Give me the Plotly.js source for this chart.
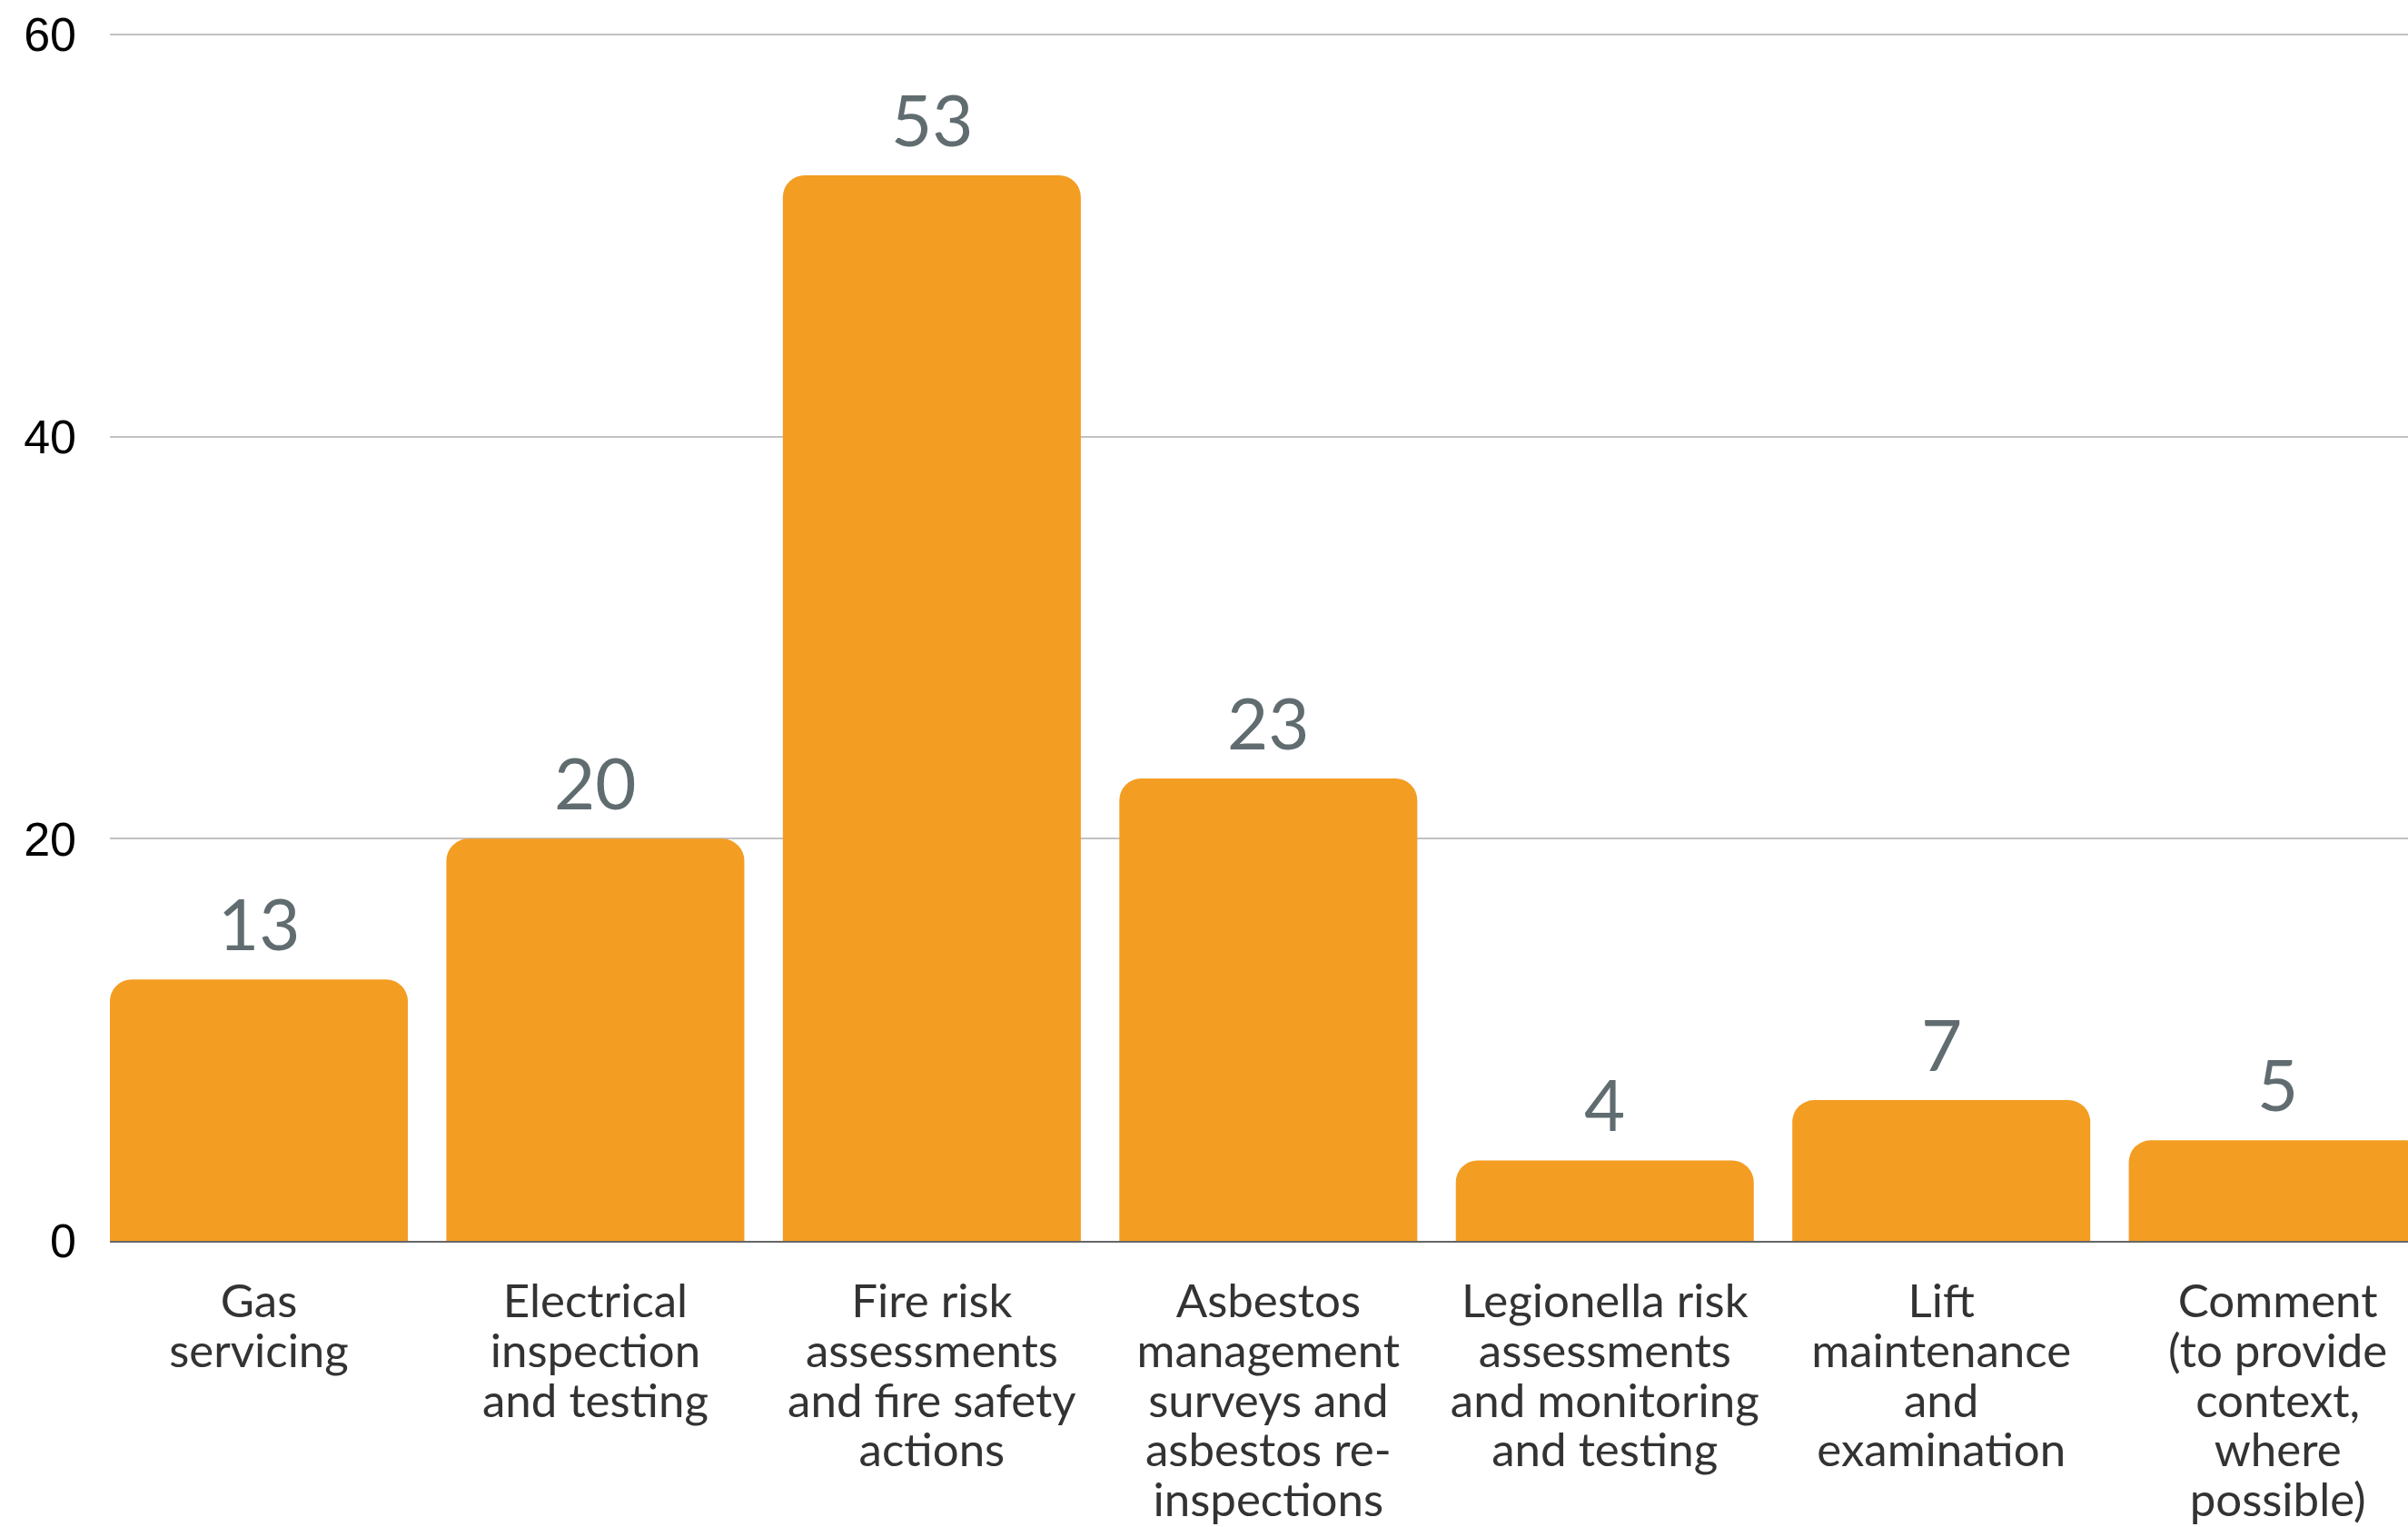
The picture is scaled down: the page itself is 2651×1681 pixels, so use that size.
<!DOCTYPE html>
<html>
<head>
<meta charset="utf-8">
<script src="https://cdn.plot.ly/plotly-3.0.1.min.js"></script>
<style>
  html, body { margin: 0; padding: 0; background: #ffffff; }
  #chart { width: 2651px; height: 1681px; }
</style>
</head>
<body>
<div id="chart"></div>
<script>
// ---- data ----
var categories = [
  "Gas<br>servicing",
  "Electrical<br>inspection<br>and testing",
  "Fire risk<br>assessments<br>and fire safety<br>actions",
  "Asbestos<br>management<br>surveys and<br>asbestos re-<br>inspections",
  "Legionella risk<br>assessments<br>and monitoring<br>and testing",
  "Lift<br>maintenance<br>and<br>examination",
  "Comment<br>(to provide<br>context,<br>where<br>possible)"
];
var values = [13, 20, 53, 23, 4, 7, 5];
var yTickVals = [0, 20, 40, 60];
var yTickText = ["0", "20", "40", "60"];

// ---- styling ----
var BAR_COLOR = "#F39D22";
var LABEL_COLOR = "#606C70";
var CAT_COLOR = "#333333";

// tick text: each line in a larger span so glyphs are big but line spacing stays tight
var catTickText = categories.map(function (c) {
  return c.split("<br>").map(function (line) {
    return '<span style="font-size:51px">' + line + '</span>';
  }).join("<br>");
});

var trace = {
  type: "bar",
  x: categories,
  y: values,
  marker: { color: BAR_COLOR, cornerradius: 24, line: { width: 0 } },
  hoverinfo: "x+y",
  cliponaxis: true
};

var annotations = categories.map(function (c, i) {
  return {
    x: c, y: values[i], xref: "x", yref: "y",
    text: String(values[i]),
    showarrow: false,
    yanchor: "bottom",
    xanchor: "center",
    yshift: 13,
    font: { family: "Lato, 'Open Sans', sans-serif", size: 78, color: LABEL_COLOR }
  };
});

var layout = {
  width: 2651,
  height: 1681,
  margin: { l: 121, r: 0, t: 37, b: 315, pad: 0 },
  paper_bgcolor: "#ffffff",
  plot_bgcolor: "#ffffff",
  bargap: 0.1145,
  showlegend: false,
  xaxis: {
    type: "category",
    range: [-0.4427, 6.387],
    tickvals: categories,
    ticktext: catTickText,
    tickfont: { family: "Lato, 'Open Sans', sans-serif", size: 42, color: CAT_COLOR },
    ticks: "",
    ticklabelstandoff: 32,
    showgrid: false,
    showline: true,
    linecolor: "#666666",
    linewidth: 2,
    zeroline: false,
    fixedrange: true
  },
  yaxis: {
    range: [0, 60.05],
    tickvals: yTickVals,
    ticktext: yTickText,
    tickfont: { family: "'Liberation Sans', Arial, sans-serif", size: 52, color: "#000000" },
    ticks: "",
    ticklabelstandoff: 36,
    showgrid: true,
    gridcolor: "#C2C2C2",
    gridwidth: 2,
    zeroline: false,
    showline: false,
    fixedrange: true
  },
  annotations: annotations
};

Plotly.newPlot("chart", [trace], layout, { displayModeBar: false, staticPlot: true });
</script>
</body>
</html>
